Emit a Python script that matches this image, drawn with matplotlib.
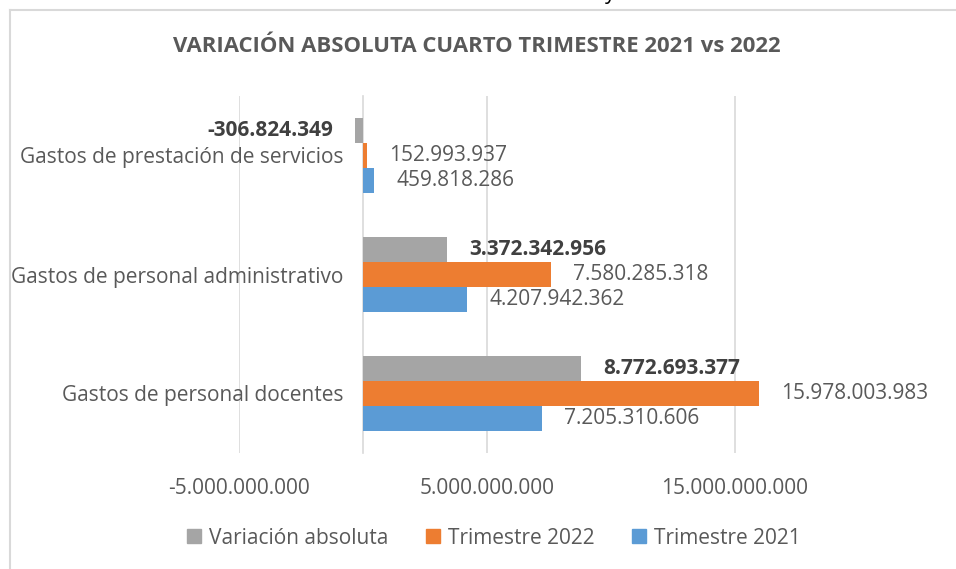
import matplotlib
matplotlib.use('Agg')
import matplotlib.pyplot as plt
from matplotlib.patches import Patch
from matplotlib.lines import Line2D
import numpy as np

plt.rcParams['font.family'] = ['Open Sans', 'DejaVu Sans']

categorias = ['Gastos de personal docentes',
              'Gastos de personal administrativo',
              'Gastos de prestación de servicios']
trim_2021 = [7205310606, 4207942362, 459818286]
trim_2022 = [15978003983, 7580285318, 152993937]
variacion = [8772693377, 3372342956, -306824349]
ticks = [-5e9, 5e9, 15e9]

AZUL = '#5B9BD5'
NARANJA = '#ED7D31'
GRIS = '#A5A5A5'
TEXTO = '#595959'
GRID = '#D9D9D9'


def fmt(v):
    return f'{v:,.0f}'.replace(',', '.')


W, H = 956, 569
fig = plt.figure(figsize=(W / 100, H / 100), dpi=100)

# plot area in pixels: x from 239 to 956, y from 96 to 453
ax = fig.add_axes([239 / W, (H - 453) / H, (W - 239) / W, 357 / H])
ax.set_xlim(-5e9, -5e9 + (W - 239) / 24.8 * 1e9)
ax.set_ylim(-0.5, 2.5)

y = np.arange(len(categorias))
h = 0.21
series = [(trim_2021, AZUL, -h, 'Trimestre 2021', 'normal'),
          (trim_2022, NARANJA, 0, 'Trimestre 2022', 'normal'),
          (variacion, GRIS, h, 'Variación absoluta', 'bold')]

for vals, col, off, name, weight in series:
    ax.barh(y + off, vals, height=h, color=col, zorder=3)
    for yi, v in zip(y + off, vals):
        dx = 16 if v >= 0 else -16
        ax.annotate(fmt(v), (v, yi), xytext=(dx, 0), textcoords='offset points',
                    ha='left' if v >= 0 else 'right', va='center',
                    fontsize=15, fontweight=weight,
                    color='#404040' if weight == 'bold' else TEXTO)

ax.set_xticks(ticks)
ax.set_xticklabels([fmt(t) for t in ticks])
ax.set_yticks(y)
ax.set_yticklabels(categorias)
ax.tick_params(axis='x', length=0, pad=18, labelsize=15, labelcolor=TEXTO)
ax.tick_params(axis='y', length=0, pad=14, labelsize=15, labelcolor=TEXTO)
ax.grid(axis='x', color=GRID, lw=1.2, zorder=0)
for s in ['top', 'right', 'bottom']:
    ax.spines[s].set_visible(False)
ax.spines['left'].set_position(('data', 0))
ax.spines['left'].set_color(GRID)
ax.spines['left'].set_linewidth(1.2)
ax.spines['left'].set_zorder(2)

fig.text(477 / W, 1 - 47 / H, 'VARIACIÓN ABSOLUTA CUARTO TRIMESTRE 2021 vs 2022',
         ha='center', va='center', fontsize=15.9, fontweight='bold', color=TEXTO)

handles = [Patch(color=GRIS), Patch(color=NARANJA), Patch(color=AZUL)]
fig.legend(handles, ['Variación absoluta', 'Trimestre 2022', 'Trimestre 2021'],
           loc='center', bbox_to_anchor=(494 / W, 1 - 538 / H), ncol=3,
           frameon=False, fontsize=15, labelcolor=TEXTO,
           handlelength=0.65, handleheight=0.65, handletextpad=0.4,
           columnspacing=1.8)

# chart border (cropped on the right and bottom)
fig.add_artist(Line2D([10 / W, 1], [1 - 10 / H, 1 - 10 / H], color=GRID, lw=1.5))
fig.add_artist(Line2D([10 / W, 10 / W], [0, 1 - 10 / H], color=GRID, lw=1.5))
# cropped descender of text above the chart in the source
fig.text(610 / W, 1 - 4 / H, 'y', ha='center', va='bottom', fontsize=15, color='black')

fig.savefig('out.png', dpi=100)
